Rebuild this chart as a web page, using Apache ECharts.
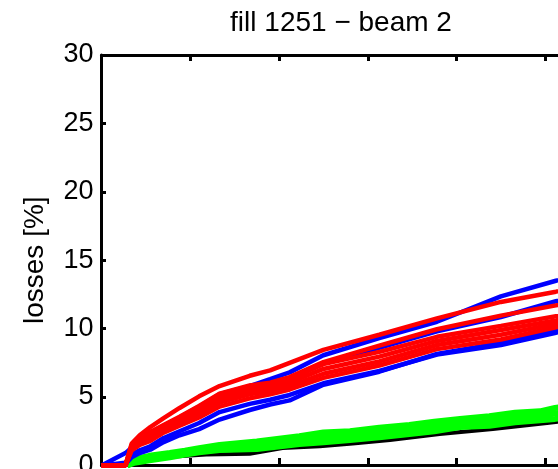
<!DOCTYPE html>
<html>
<head>
<meta charset="utf-8">
<script src="https://cdn.jsdelivr.net/npm/echarts@6/dist/echarts.min.js"></script>
<style>html,body{margin:0;padding:0;background:#fff;}#c{width:558px;height:469px;}</style>
</head>
<body>
<div id="c"></div>
<script>
// ---- data ----
const titleText = 'fill 1251 \u2212 beam 2';
const yTicks = [0, 5, 10, 15, 20, 25, 30];

// time axis samples for the red / blue curves
const xs = [0, 0.27, 0.34, 0.43, 0.55, 0.7, 0.88, 1.1, 1.33, 1.67, 1.9, 2.12, 2.5, 3.13, 3.78, 4.5, 5.12, 5.6];
const red1 = [0, 0, 1.6, 2.2, 2.8, 3.45, 4.2, 5.05, 5.8, 6.55, 6.95, 7.5, 8.45, 9.55, 10.75, 11.95, 12.7, 13.3];
const red2 = [0, 0, 1.5, 1.85, 2.45, 2.95, 3.55, 4.35, 5.25, 5.85, 6.05, 6.45, 7.55, 8.75, 9.95, 10.95, 11.7, 12.3];
const red3 = [0, 0, 1.4, 1.7, 2.3, 2.8, 3.4, 4.2, 5.1, 5.7, 5.9, 6.3, 7.4, 8.3, 9.4, 10.2, 10.9, 11.4];
const red4 = [0, 0, 1.3, 1.65, 2.15, 2.65, 3.25, 4.0, 4.85, 5.45, 5.7, 6.05, 7.05, 7.95, 9.1, 9.9, 10.6, 11.15];
const red5 = [0, 0, 1.2, 1.55, 1.95, 2.5, 3.05, 3.75, 4.6, 5.2, 5.45, 5.8, 6.7, 7.6, 8.8, 9.55, 10.35, 10.9];
const red6 = [0, 0, 1.1, 1.5, 1.8, 2.4, 2.9, 3.5, 4.3, 4.9, 5.2, 5.55, 6.4, 7.3, 8.5, 9.2, 10.1, 10.7];
const blue1 = [0, 0.9, 1.3, 1.8, 2.4, 2.85, 3.45, 4.25, 5.1, 5.8, 6.3, 6.8, 8.05, 9.3, 10.5, 12.35, 13.5, 14.2];
const blue2 = [0, 0, 1.3, 1.8, 2.4, 2.9, 3.5, 4.3, 5.2, 5.8, 6.0, 6.4, 7.5, 8.6, 9.8, 10.85, 12.0, 12.7];
const blue3 = [0, 0.2, 0.8, 1.1, 1.4, 2.0, 2.5, 3.1, 3.9, 4.5, 4.8, 5.15, 6.0, 6.9, 8.1, 8.8, 9.7, 10.3];
const blue4 = [0, 0.1, 0.6, 0.9, 1.15, 1.7, 2.2, 2.65, 3.35, 4.05, 4.45, 4.75, 5.9, 6.85, 8.15, 8.95, 9.85, 10.45];

// green band
const gx = [0.29, 0.37, 0.54, 0.77, 0.94, 1.1, 1.33, 1.75, 2.23, 2.5, 2.8, 3.13, 3.47, 3.75, 4.04, 4.37, 4.66, 4.94, 5.11, 5.6];
const green1 = [0, 0.45, 0.7, 0.9, 1.07, 1.26, 1.5, 1.75, 2.14, 2.4, 2.5, 2.76, 2.95, 3.2, 3.4, 3.6, 3.85, 3.95, 4.2, 4.6];
const green2 = [0, 0.33, 0.53, 0.75, 0.93, 1.11, 1.31, 1.48, 1.86, 2.05, 2.18, 2.41, 2.62, 2.85, 3.1, 3.25, 3.5, 3.62, 3.8, 4.2];
const green3 = [0, 0.2, 0.37, 0.6, 0.8, 0.96, 1.13, 1.2, 1.57, 1.7, 1.86, 2.06, 2.3, 2.5, 2.8, 2.9, 3.16, 3.3, 3.4, 3.8];

// black line
const kx = [0.29, 0.69, 1.18, 1.67, 2.04, 2.46, 2.83, 3.25, 3.81, 4.41, 5.02, 5.6];
const black1 = [0, 0.6, 0.8, 0.85, 1.27, 1.4, 1.6, 1.86, 2.3, 2.66, 3.1, 3.5];

// ---- chart ----
const pair = (x, y) => x.map((v, i) => [v, y[i]]);
const line = (x, y, color, w) => ({
  type: 'line', data: pair(x, y), symbol: 'none', silent: true,
  lineStyle: { color: color, width: w }, z: 2
});
const RED = '#ff0000', BLUE = '#0000ff', GREEN = '#00ff00', BLACK = '#000000';

const chart = echarts.init(document.getElementById('c'), null, { renderer: 'canvas' });
const FONT = 'Liberation Sans, Arial, sans-serif';
chart.setOption({
  animation: false,
  backgroundColor: '#fff',
  title: {
    text: titleText, left: 336, top: 4, textAlign: 'center',
    textStyle: { fontFamily: FONT, fontSize: 28, fontWeight: 'normal', color: '#000' }
  },
  grid: { left: 101.5, top: 55, width: 532.5, bottom: 3.6, containLabel: false, outerBoundsMode: 'none' },
  xAxis: [
    { type: 'value', min: 0, max: 6, interval: 1, position: 'bottom',
      axisLine: { show: true, onZero: false, lineStyle: { color: BLACK, width: 3 } },
      axisTick: { show: true, inside: true, length: 7.5, lineStyle: { color: BLACK, width: 3 } },
      axisLabel: { show: false }, splitLine: { show: false } },
    { type: 'value', min: 0, max: 6, interval: 1, position: 'top',
      axisLine: { show: true, onZero: false, lineStyle: { color: BLACK, width: 3 } },
      axisTick: { show: true, inside: true, length: 6, lineStyle: { color: BLACK, width: 3 } },
      axisLabel: { show: false }, splitLine: { show: false } }
  ],
  yAxis: [{
    type: 'value', min: yTicks[0], max: yTicks[yTicks.length - 1], interval: 5,
    name: 'losses [%]', nameLocation: 'middle', nameGap: 52, nameRotate: 90,
    nameTextStyle: { fontFamily: FONT, fontSize: 28, color: '#000' },
    axisLine: { show: true, onZero: false, lineStyle: { color: BLACK, width: 3 } },
    axisTick: { show: true, inside: true, length: 4.5, lineStyle: { color: BLACK, width: 3 } },
    axisLabel: { fontFamily: FONT, fontSize: 27, color: '#000', margin: 8 },
    splitLine: { show: false }
  }],
  series: [
    line(kx, black1, BLACK, 4),
    line(gx, green3, GREEN, 6),
    line(gx, green2, GREEN, 6),
    line(gx, green1, GREEN, 6),
    line(xs, blue4, BLUE, 4.5),
    line(xs, blue3, BLUE, 4.5),
    line(xs, blue2, BLUE, 4.5),
    line(xs, blue1, BLUE, 4.5),
    line(xs, red6, RED, 4.5),
    line(xs, red5, RED, 4.5),
    line(xs, red4, RED, 4.5),
    line(xs, red3, RED, 4.5),
    line(xs, red2, RED, 4.5),
    line(xs, red1, RED, 4.5)
  ]
});
</script>
</body>
</html>
